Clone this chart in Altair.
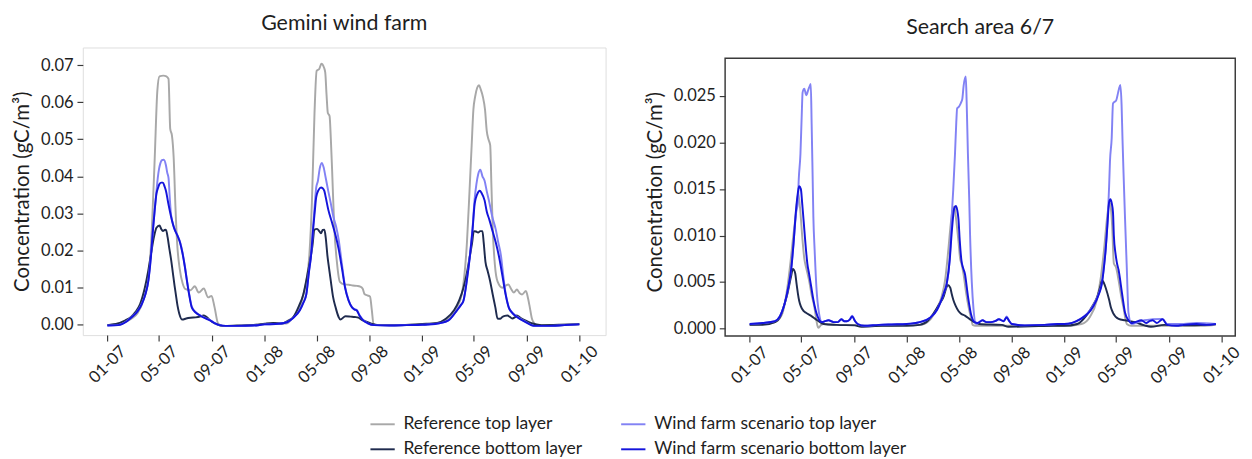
import altair as alt
import pandas as pd

# ---------------- data (values in gC/m3, keyed by year -> [day-of-year, value]) ----------------
GEM_REF_TOP = {
    2007: [(0,-0.0002),(30,0.0003),(55,0.0015),(70,0.003),(85,0.007),(95,0.012),(103,0.025),(110,0.045),(116,0.063),(121,0.067),(130,0.0672),(137,0.067),(142,0.0663),(146,0.0528),(150,0.051),(154,0.045),(158,0.032),(162,0.022),(168,0.015),(175,0.011),(182,0.0095),(193,0.0092),(203,0.0103),(212,0.0086),(224,0.0097),(234,0.0073),(242,0.0077),(249,0.0046),(257,0.0003),(268,-0.0004),(300,-0.0004),(340,-0.0002)],
    2008: [(0,0.0001),(25,0.0003),(50,0.0002),(67,0.002),(82,0.0046),(90,0.008),(97,0.0116),(104,0.0186),(110,0.033),(116,0.057),(121,0.0685),(127,0.069),(132,0.0704),(138,0.0694),(141,0.068),(144,0.062),(147,0.0571),(151,0.0563),(154,0.05),(157,0.0414),(162,0.026),(168,0.0169),(175,0.0115),(185,0.0108),(196,0.0107),(205,0.0105),(215,0.0104),(222,0.0102),(228,0.0096),(232,0.0082),(240,0.0078),(245,0.0075),(249,0.004),(253,0.0002),(262,-0.0002),(300,-0.0003),(340,-0.0001)],
    2009: [(0,0.0),(30,0.0003),(60,0.0015),(80,0.0045),(92,0.0081),(104,0.0221),(110,0.036),(115,0.0484),(119,0.058),(123,0.0615),(128,0.064),(132,0.0646),(136,0.0635),(141,0.0615),(146,0.058),(150,0.0523),(154,0.050),(158,0.0484),(161,0.037),(164,0.0256),(169,0.016),(175,0.0116),(186,0.0099),(193,0.0104),(200,0.0108),(207,0.0095),(213,0.0086),(220,0.0094),(226,0.0085),(232,0.0081),(241,0.009),(246,0.007),(250,0.0046),(255,0.0015),(258,0.0007),(265,-0.0002),(300,-0.0003),(330,-0.0002),(365,0.0)],
}
GEM_REF_BOT = {
    2007: [(0,-0.0002),(20,0.0001),(42,0.0011),(55,0.002),(65,0.0033),(76,0.0055),(87,0.0099),(95,0.0145),(102,0.0195),(108,0.0235),(114,0.0261),(121,0.0267),(125,0.0258),(129,0.0252),(133,0.0255),(136,0.0256),(140,0.0235),(144,0.0204),(148,0.0175),(152,0.014),(156,0.0105),(159,0.0081),(163,0.005),(167,0.0029),(174,0.0013),(183,0.0016),(193,0.0018),(205,0.0019),(215,0.0021),(223,0.0024),(229,0.0021),(234,0.0016),(243,0.0007),(253,0.0001),(268,-0.0004),(300,-0.0003),(345,-0.0001)],
    2008: [(0,0.0002),(20,0.0004),(40,0.0002),(55,0.001),(67,0.002),(80,0.005),(90,0.0081),(98,0.0125),(105,0.0169),(111,0.021),(116,0.0256),(122,0.0258),(127,0.0252),(131,0.0246),(135,0.0255),(139,0.0256),(142,0.0235),(146,0.0186),(150,0.015),(154,0.0116),(159,0.0075),(165,0.0046),(172,0.002),(176,0.0013),(188,0.0022),(200,0.0021),(210,0.002),(218,0.0018),(225,0.0013),(235,0.0008),(248,0.0002),(265,-0.0002),(320,-0.0002),(350,0.0)],
    2009: [(0,0.0001),(36,0.0004),(55,0.0015),(74,0.0038),(86,0.0065),(96,0.0099),(104,0.014),(111,0.0186),(116,0.022),(120,0.0252),(125,0.0251),(130,0.0248),(135,0.0252),(140,0.0252),(143,0.022),(147,0.0169),(152,0.0145),(158,0.0116),(164,0.008),(170,0.0046),(175,0.0016),(181,0.0015),(186,0.002),(192,0.0023),(198,0.0024),(204,0.002),(209,0.0016),(215,0.0019),(220,0.0024),(228,0.0018),(239,0.0011),(254,0.0003),(277,-0.0002),(320,-0.0001),(365,0.0001)],
}
GEM_WF_TOP = {
    2007: [(0,-0.0003),(25,-0.0002),(45,0.0009),(57,0.0021),(70,0.0036),(80,0.0056),(88,0.0081),(95,0.0118),(101,0.0185),(106,0.026),(110,0.031),(114,0.036),(117,0.0395),(120,0.042),(123,0.0435),(126,0.0443),(131,0.0445),(136,0.043),(139,0.041),(142,0.0396),(145,0.034),(148,0.0295),(155,0.0262),(163,0.024),(169,0.0222),(174,0.0197),(180,0.0157),(185,0.0118),(190,0.0082),(196,0.0048),(205,0.0033),(215,0.0025),(228,0.0017),(238,0.0012),(250,0.0003),(260,-0.0002),(275,-0.0004),(300,-0.0004),(340,-0.0003)],
    2008: [(0,0.0),(25,0.0001),(50,0.0005),(67,0.0018),(82,0.0039),(90,0.0059),(97,0.0082),(103,0.0142),(108,0.0188),(113,0.0265),(117,0.033),(120,0.037),(124,0.0388),(128,0.042),(133,0.0436),(137,0.0425),(142,0.0396),(148,0.036),(154,0.0326),(160,0.029),(166,0.0265),(172,0.023),(180,0.016),(187,0.0102),(195,0.0066),(203,0.0047),(209,0.0041),(214,0.0039),(220,0.0026),(229,0.0012),(240,0.0003),(255,-0.0002),(290,-0.0003),(330,-0.0002)],
    2009: [(0,-0.0001),(30,0.0001),(60,0.001),(81,0.0039),(90,0.0053),(96,0.0065),(104,0.0122),(111,0.0188),(117,0.026),(122,0.034),(126,0.0379),(130,0.0405),(135,0.0418),(140,0.040),(145,0.0388),(150,0.036),(155,0.0335),(163,0.029),(171,0.0256),(177,0.022),(183,0.0186),(188,0.0135),(194,0.0082),(201,0.0047),(210,0.0031),(220,0.0021),(239,0.0008),(261,-0.0004),(290,-0.0004),(330,-0.0002),(365,0.0)],
}
GEM_WF_BOT = {
    2007: [(0,-0.0003),(25,-0.0002),(45,0.0008),(57,0.002),(70,0.0035),(80,0.0055),(88,0.008),(95,0.0116),(101,0.018),(106,0.0256),(110,0.031),(114,0.0353),(118,0.037),(121,0.0379),(125,0.0383),(129,0.0383),(133,0.0372),(136,0.0361),(141,0.033),(148,0.0291),(155,0.026),(163,0.0239),(169,0.022),(174,0.0195),(180,0.0155),(185,0.0116),(190,0.008),(196,0.0046),(205,0.0032),(215,0.0024),(228,0.0016),(238,0.0011),(250,0.0003),(260,-0.0002),(275,-0.0004),(300,-0.0004),(340,-0.0003)],
    2008: [(0,0.0),(25,0.0001),(50,0.0005),(67,0.0018),(82,0.0038),(90,0.0058),(97,0.0081),(103,0.014),(108,0.0186),(113,0.026),(117,0.031),(120,0.0344),(125,0.0362),(131,0.037),(135,0.0368),(139,0.036),(142,0.0344),(148,0.031),(157,0.0274),(165,0.024),(172,0.0204),(180,0.015),(187,0.0099),(195,0.0065),(203,0.0046),(209,0.004),(214,0.0038),(220,0.0025),(229,0.0011),(240,0.0003),(255,-0.0002),(290,-0.0003),(330,-0.0002)],
    2009: [(0,-0.0001),(30,0.0001),(60,0.001),(81,0.0038),(90,0.0052),(96,0.0064),(104,0.012),(111,0.0186),(117,0.0255),(122,0.0326),(128,0.0352),(134,0.0361),(138,0.0355),(145,0.0335),(150,0.0305),(156,0.0283),(164,0.025),(171,0.0221),(179,0.018),(186,0.0134),(194,0.008),(201,0.0046),(210,0.003),(220,0.002),(239,0.0007),(261,-0.0004),(290,-0.0004),(330,-0.0002),(365,0.0)],
}

SA_REF_TOP = {
    2007: [(0,0.0004),(30,0.0005),(59,0.0007),(75,0.0015),(82,0.0028),(89,0.0049),(95,0.0072),(100,0.0094),(106,0.0118),(110,0.0136),(113,0.0145),(117,0.013),(123,0.0094),(127,0.0075),(131,0.0066),(134,0.006),(138,0.0052),(144,0.0036),(150,0.0024),(154,0.0012),(157,0.0004),(160,0.0001),(166,0.0004),(172,0.0005),(200,0.0004),(240,0.0004),(280,0.0003),(330,0.0003)],
    2008: [(0,0.0004),(30,0.0004),(55,0.001),(70,0.0022),(80,0.0033),(89,0.0052),(97,0.0087),(102,0.0112),(107,0.0129),(111,0.0131),(114,0.012),(120,0.0094),(124,0.0075),(127,0.007),(132,0.0058),(138,0.0038),(144,0.0022),(150,0.001),(153,0.0004),(160,0.0003),(200,0.0003),(250,0.0003),(300,0.0003),(340,0.0003)],
    2009: [(0,0.0003),(40,0.0005),(60,0.0013),(75,0.003),(85,0.0056),(92,0.0084),(100,0.0122),(105,0.0136),(108,0.013),(111,0.0111),(115,0.007),(120,0.0066),(126,0.0052),(132,0.0035),(138,0.0021),(142,0.001),(145,0.0005),(155,0.0003),(200,0.0003),(260,0.0003),(320,0.0003),(352,0.0004)],
}
SA_REF_BOT = {
    2007: [(0,0.0004),(30,0.0004),(59,0.0007),(70,0.0012),(82,0.0028),(88,0.0038),(93,0.0049),(97,0.0058),(100,0.0064),(103,0.0063),(106,0.0059),(109,0.0048),(112,0.0038),(115,0.003),(119,0.0024),(125,0.0019),(131,0.0017),(142,0.0014),(157,0.0009),(172,0.0005),(202,0.0004),(244,0.00035),(259,0.0002),(308,0.0003),(340,0.0003)],
    2008: [(0,0.0003),(30,0.0004),(50,0.0009),(63,0.0017),(75,0.0026),(86,0.0035),(92,0.0044),(95,0.0047),(101,0.0044),(104,0.0038),(108,0.0031),(113,0.0025),(120,0.0019),(126,0.0016),(135,0.0014),(150,0.0009),(168,0.0005),(221,0.0004),(236,0.0002),(289,0.00025),(340,0.0003)],
    2009: [(0,0.0003),(30,0.0005),(51,0.0014),(65,0.0024),(77,0.0035),(84,0.0046),(88,0.0052),(92,0.0049),(96,0.0044),(104,0.0031),(108,0.0023),(113,0.0017),(126,0.00105),(141,0.0009),(164,0.0007),(186,0.00035),(201,0.0002),(232,0.0004),(292,0.00035),(352,0.0005)],
}
SA_WF_TOP = {
    2007: [(0,0.0005),(30,0.0006),(59,0.0008),(70,0.0013),(82,0.0028),(90,0.0045),(97,0.0066),(102,0.0092),(108,0.0125),(112,0.0135),(114,0.016),(118,0.0188),(121,0.023),(123,0.0254),(127,0.0258),(130,0.0253),(132,0.0251),(135,0.0255),(138,0.0259),(142,0.0263),(144,0.022),(146,0.0171),(148,0.012),(151,0.0084),(155,0.0045),(161,0.0017),(168,0.0007),(175,0.0008),(183,0.0009),(195,0.0007),(205,0.0007),(213,0.001),(220,0.0008),(226,0.0008),(233,0.001),(238,0.0014),(245,0.0008),(251,0.0005),(266,0.0003),(300,0.0004),(330,0.00045)],
    2008: [(0,0.0005),(30,0.0007),(55,0.0012),(70,0.002),(78,0.0028),(86,0.0038),(93,0.0049),(100,0.0078),(104,0.0118),(108,0.015),(112,0.0188),(115,0.0222),(117,0.0237),(120,0.0238),(123,0.024),(126,0.0243),(129,0.0247),(132,0.0261),(137,0.0271),(139,0.0245),(142,0.0188),(145,0.014),(147,0.0101),(151,0.005),(155,0.0021),(161,0.0005),(165,0.0006),(176,0.0009),(185,0.0007),(195,0.0007),(205,0.0008),(214,0.001),(225,0.0008),(232,0.0013),(238,0.0008),(244,0.0005),(274,0.00035),(320,0.0004),(350,0.0005)],
    2009: [(0,0.0005),(36,0.001),(66,0.0024),(81,0.0039),(87,0.0049),(92,0.0067),(96,0.0086),(100,0.0113),(104,0.0153),(106,0.018),(110,0.0205),(113,0.0242),(117,0.0244),(120,0.0245),(125,0.0254),(127,0.0258),(130,0.0262),(133,0.024),(135,0.0205),(138,0.016),(141,0.0118),(145,0.0066),(149,0.0017),(156,0.0005),(171,0.0007),(186,0.0009),(205,0.001),(228,0.00105),(239,0.0005),(277,0.0005),(307,0.0006),(352,0.0005)],
}
SA_WF_BOT = {
    2007: [(0,0.0005),(30,0.0006),(59,0.0008),(70,0.0013),(82,0.0028),(90,0.0045),(97,0.0066),(102,0.0092),(108,0.0129),(112,0.0146),(115,0.0153),(119,0.015),(122,0.0135),(125,0.0118),(131,0.0084),(134,0.007),(138,0.0059),(143,0.0045),(148,0.0031),(157,0.0014),(168,0.0007),(175,0.0008),(183,0.0009),(195,0.0007),(205,0.0007),(213,0.001),(220,0.0008),(226,0.0008),(233,0.001),(238,0.0013),(245,0.0008),(251,0.0005),(266,0.0003),(300,0.0004),(330,0.00045)],
    2008: [(0,0.0005),(30,0.0007),(55,0.0012),(70,0.002),(78,0.0028),(86,0.0038),(93,0.0049),(100,0.0075),(104,0.0101),(108,0.0122),(110,0.0129),(114,0.0132),(117,0.0128),(120,0.0118),(123,0.0095),(127,0.0073),(131,0.0065),(135,0.0059),(142,0.0035),(150,0.0014),(157,0.0007),(165,0.0006),(176,0.0009),(185,0.0007),(195,0.0007),(205,0.0008),(214,0.001),(225,0.0008),(232,0.0012),(238,0.0008),(244,0.0005),(274,0.00035),(320,0.0004),(350,0.0005)],
    2009: [(0,0.0005),(36,0.001),(66,0.0023),(81,0.0038),(87,0.0048),(92,0.0066),(96,0.0085),(100,0.0111),(104,0.0136),(107,0.0139),(110,0.0135),(113,0.0125),(115,0.01),(119,0.008),(122,0.0071),(126,0.0063),(134,0.0038),(141,0.0017),(149,0.0009),(155,0.0006),(164,0.0007),(179,0.0009),(190,0.0006),(198,0.0008),(205,0.0009),(215,0.0006),(228,0.001),(239,0.0004),(260,0.0003),(277,0.0004),(307,0.0005),(330,0.0004),(352,0.0005)],
}

# legend fills column by column: left column = reference, right column = wind farm scenario
SERIES = ["Reference top layer", "Reference bottom layer",
          "Wind farm scenario top layer", "Wind farm scenario bottom layer"]
COLORS = ["#a8a8a8", "#1f2b4e", "#8282f4", "#1414dc"]
DRAW_ORDER = ["Reference top layer", "Reference bottom layer",
              "Wind farm scenario top layer", "Wind farm scenario bottom layer"]

X_TICKS = [(2007, 1), (2007, 5), (2007, 9), (2008, 1), (2008, 5), (2008, 9),
           (2009, 1), (2009, 5), (2009, 9), (2010, 1)]
GEM_Y_TICKS = [0.0, 0.01, 0.02, 0.03, 0.04, 0.05, 0.06, 0.07]
SA_Y_TICKS = [0.0, 0.005, 0.01, 0.015, 0.02, 0.025]

FONT = "Lato"
FRAME = "#3a3a3a"
TEXT = "#1e1e1e"


def to_frame(named):
    rows = []
    for name, by_year in named.items():
        for year, pts in by_year.items():
            start = pd.Timestamp(year=year, month=1, day=1)
            for doy, v in pts:
                rows.append({"series": name,
                             "date": (start + pd.Timedelta(days=doy)).strftime("%Y-%m-%d"),
                             "value": v})
    return pd.DataFrame(rows)


gem_df = to_frame({"Reference top layer": GEM_REF_TOP, "Reference bottom layer": GEM_REF_BOT,
                   "Wind farm scenario top layer": GEM_WF_TOP,
                   "Wind farm scenario bottom layer": GEM_WF_BOT})
sa_df = to_frame({"Reference top layer": SA_REF_TOP, "Reference bottom layer": SA_REF_BOT,
                  "Wind farm scenario top layer": SA_WF_TOP,
                  "Wind farm scenario bottom layer": SA_WF_BOT})


def dt(y, m, d):
    return alt.DateTime(year=y, month=m, date=d, utc=True)


color = alt.Color(
    "series:N",
    scale=alt.Scale(domain=SERIES, range=COLORS),
    legend=alt.Legend(orient="none", legendX=295, legendY=374, columns=2,
                      symbolType="stroke", symbolSize=625, symbolStrokeWidth=2,
                      labelFontSize=18, labelFont=FONT, labelColor=TEXT,
                      labelLimit=400, labelOffset=8, columnPadding=36, rowPadding=3,
                      padding=0, title=None),
)


def panel(df, title, xdomain, ydomain, yticks, yfmt, width, height, extra=None):
    x = alt.X("date:T",
              scale=alt.Scale(type="utc", domain=xdomain),
              axis=alt.Axis(values=[dt(y, m, 1) for y, m in X_TICKS], format="%m-%y",
                            labelAngle=-45, labelAlign="center", labelBaseline="middle",
                            labelPadding=24, labelOverlap=False, labelFlush=False,
                            labelFontSize=17, labelFont=FONT, labelColor=TEXT,
                            tickSize=6, tickColor=FRAME, tickWidth=1.2,
                            domain=False, grid=False),
              title=None)
    y = alt.Y("value:Q",
              scale=alt.Scale(domain=ydomain, nice=False, zero=False),
              axis=alt.Axis(values=yticks, format=yfmt, labelFontSize=17, labelFont=FONT,
                            labelColor=TEXT, labelPadding=4,
                            tickSize=6, tickColor=FRAME, tickWidth=1.2,
                            domain=False, grid=False,
                            titleFontSize=21, titleFont=FONT, titleFontWeight="normal",
                            titleColor=TEXT, titlePadding=8),
              title="Concentration (gC/m³)")
    layers = []
    if extra is not None:
        layers.append(extra)
    for s in DRAW_ORDER:
        layers.append(
            alt.Chart(df).transform_filter(alt.datum.series == s)
            .mark_line(strokeWidth=2, interpolate="monotone")
            .encode(x=x, y=y, color=color)
        )
    return alt.layer(*layers).properties(width=width, height=height, title=title)


LEFT_W, LEFT_H = 538, 296
RIGHT_W, RIGHT_H = 525, 297
RIGHT_FRAME_TOP = 11  # the right panel's box starts a little below the shared row top

left = panel(gem_df,
             alt.TitleParams("Gemini wind farm", fontSize=22, fontWeight="normal",
                             font=FONT, color=TEXT, offset=13),
             [dt(2006, 11, 5), dt(2010, 3, 3)], [-0.0029, 0.0748],
             GEM_Y_TICKS, ".2f", LEFT_W, LEFT_H)

right_box = (
    alt.Chart(pd.DataFrame({"box": [1]}))
    .mark_rect(filled=False, stroke=FRAME, strokeWidth=1.5)
    .encode(x=alt.value(0), x2=alt.value(RIGHT_W),
            y=alt.value(RIGHT_FRAME_TOP), y2=alt.value(RIGHT_H))
)
right = panel(sa_df,
              alt.TitleParams("Search area 6/7", fontSize=22, fontWeight="normal",
                              font=FONT, color=TEXT, offset=9),
              [dt(2006, 11, 5), dt(2010, 2, 2)], [-0.000804, 0.030224],
              SA_Y_TICKS, ".3f", RIGHT_W, RIGHT_H, extra=right_box
              ).properties(view=alt.ViewBackground(stroke="transparent"))

chart = (
    alt.hconcat(left, right, spacing=39)
    .properties(padding={"left": 3, "top": -3, "right": 0, "bottom": 0})
    .configure_view(stroke=FRAME, strokeWidth=1.5)
    .configure(font=FONT)
)

chart.save("out.html", embed_options={"renderer": "svg", "actions": False})
